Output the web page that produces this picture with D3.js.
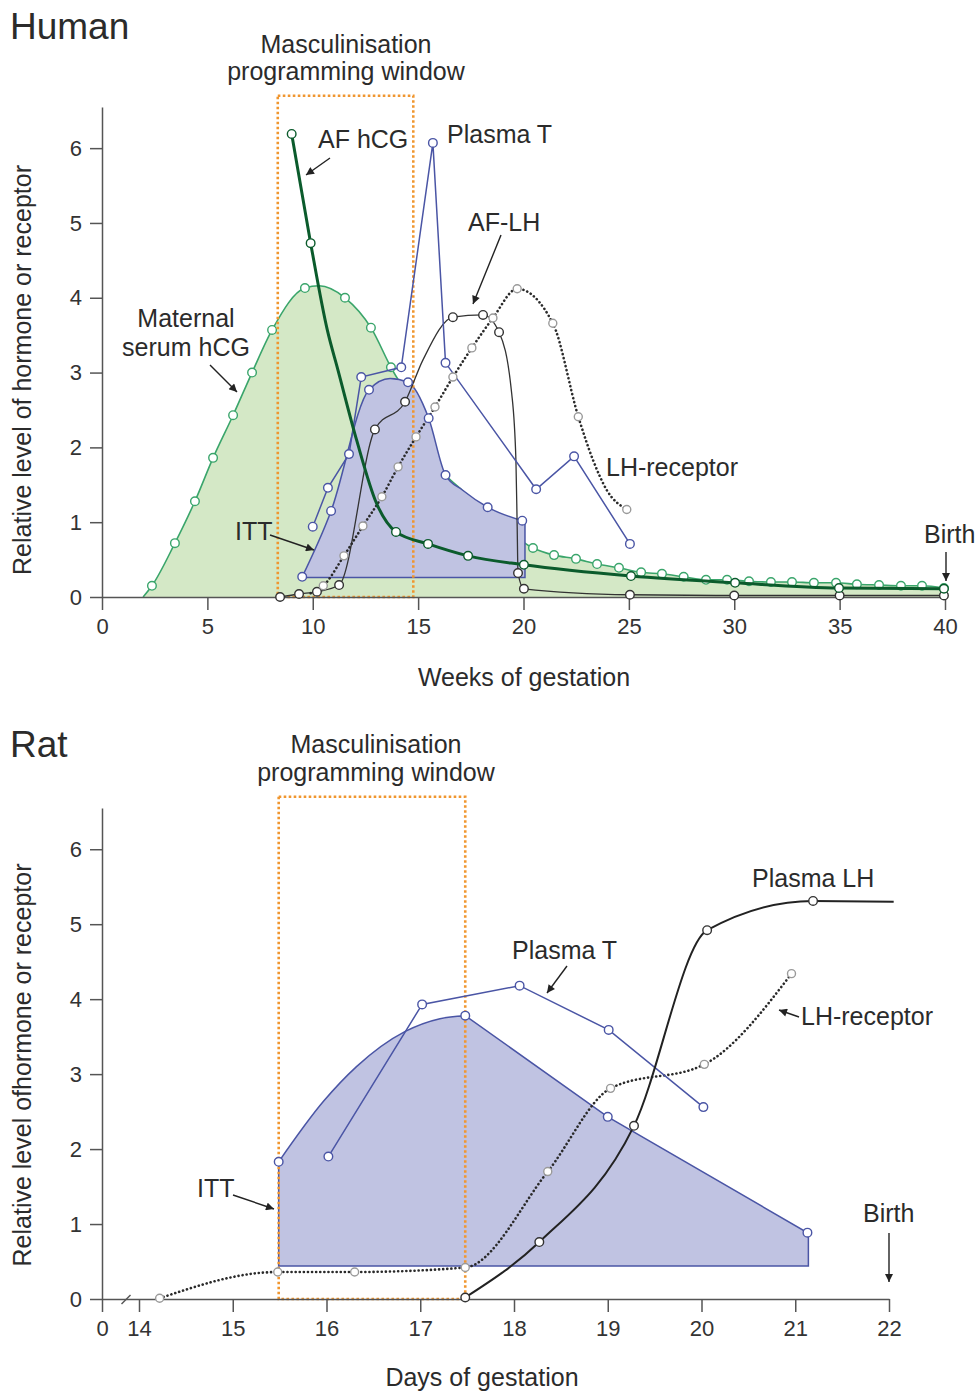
<!DOCTYPE html>
<html>
<head>
<meta charset="utf-8">
<script src="https://cdn.jsdelivr.net/npm/d3@7"></script>
<style>
body { margin: 0; background: #fff; }
svg { display: block; font-family: "Liberation Sans", Arial, sans-serif; }
.axis path, .axis line { stroke: #555; stroke-width: 1.5; }
.axis text { font-size: 22px; fill: #333; font-family: "Liberation Sans", Arial, sans-serif; }
</style>
</head>
<body>
<svg id="main-svg" width="976" height="1391"></svg>
<script>
// ---- Human panel, weeks of gestation ----
var weekTicks = [0, 5, 10, 15, 20, 25, 30, 35, 40]
var levelTicks = [0, 1, 2, 3, 4, 5, 6]
var humanWindow = [8.34, 14.77]
var windowTop = 6.7

var maternalHcg = [
    [1.95, 0, 0], [2.37, 0.15, 1], [3.46, 0.72, 1], [4.41, 1.28, 1], [5.27, 1.86, 1], [6.22, 2.43, 1],
    [7.12, 3.0, 1], [8.07, 3.57, 1], [9.63, 4.13, 1], [10.3, 4.16, 0], [11.53, 4.0, 1], [12.76, 3.6, 1],
    [13.71, 3.07, 1], [15.0, 2.45, 0], [16.0, 1.75, 0], [17.0, 1.45, 0], [18.0, 1.2, 0], [19.0, 0.95, 0],
    [20.45, 0.655, 1], [21.45, 0.56, 1], [22.49, 0.51, 1], [23.49, 0.44, 1], [24.53, 0.39, 1], [25.58, 0.33, 1],
    [26.57, 0.31, 1], [27.6, 0.27, 1], [28.66, 0.23, 1], [29.66, 0.23, 1], [30.7, 0.21, 1], [31.74, 0.2, 1],
    [32.74, 0.2, 1], [33.78, 0.19, 1], [34.83, 0.19, 1], [35.82, 0.17, 1], [36.87, 0.16, 1], [37.91, 0.15, 1],
    [38.91, 0.15, 1], [39.95, 0.12, 1]
]
var afHcg = [
    [9.0, 6.19, 1], [9.9, 4.73, 1], [10.69, 3.57, 0], [11.2, 3.03, 0], [12.08, 2.1, 0], [13.03, 1.25, 0],
    [13.95, 0.87, 1], [15.47, 0.71, 1], [17.37, 0.55, 1], [20.02, 0.43, 1], [25.1, 0.28, 1],
    [30.04, 0.19, 1], [34.97, 0.12, 1], [39.95, 0.11, 1]
]
var plasmaTHuman = [
    [10.0, 0.94], [10.72, 1.46], [11.72, 1.91], [12.3, 2.94], [14.2, 3.07], [15.7, 6.07],
    [16.3, 3.13], [20.6, 1.44], [22.4, 1.88], [25.05, 0.71]
]
var afLh = [
    [8.45, 0, 1], [9.35, 0.04, 1], [10.2, 0.07, 1], [11.25, 0.16, 1], [12.95, 2.24, 1], [14.38, 2.61, 1],
    [15.23, 3.17, 0], [16.65, 3.74, 1], [18.08, 3.77, 1], [18.84, 3.54, 1], [19.44, 2.72, 0],
    [19.64, 1.83, 0], [19.7, 0.94, 0], [19.74, 0.32, 1], [20.02, 0.11, 1], [25.05, 0.03, 1],
    [30.0, 0.02, 1], [35.0, 0.02, 1], [39.95, 0.02, 1]
]
var lhReceptorHuman = [
    [9.9, 0.05, 0], [10.5, 0.15, 1], [11.48, 0.55, 1], [12.38, 0.95, 1], [13.28, 1.34, 1], [14.05, 1.74, 1],
    [14.9, 2.14, 1], [15.8, 2.54, 1], [16.65, 2.94, 1], [17.55, 3.33, 1], [18.55, 3.73, 1], [19.7, 4.12, 1],
    [21.39, 3.66, 1], [22.6, 2.41, 1], [23.3, 1.83, 0], [23.95, 1.43, 0], [24.9, 1.17, 1]
]
var ittHuman = [
    [9.5, 0.27, 1], [10.87, 1.15, 1], [12.67, 2.77, 1], [13.67, 2.92, 0], [14.52, 2.87, 1], [15.5, 2.39, 1],
    [16.3, 1.63, 1], [17.1, 1.43, 0], [18.3, 1.2, 1], [19.94, 1.02, 1]
]
var ittHumanBase = 0.26
var ittHumanEnd = 20.07

// ---- Rat panel, days of gestation ----
var dayTicks = [0, 14, 15, 16, 17, 18, 19, 20, 21, 22]
var ratWindow = [15.49, 17.48]
var plasmaTRat = [[16.02, 1.9], [17.02, 3.93], [18.06, 4.18], [19.01, 3.59], [20.02, 2.56]]
var plasmaLhRat = [
    [17.48, 0.02, 1], [18.27, 0.76, 1], [19.28, 2.31, 1], [20.06, 4.92, 1], [21.19, 5.31, 1], [22.05, 5.3, 0]
]
var lhReceptorRat = [
    [14.22, 0.01, 1], [15.48, 0.36, 1], [16.3, 0.36, 1], [17.48, 0.42, 1], [18.36, 1.7, 1],
    [19.03, 2.81, 1], [20.03, 3.13, 1], [20.96, 4.34, 1]
]
var ittRatRise = [[15.49, 1.83, 1], [15.97, 2.64, 0], [16.32, 3.1, 0], [16.84, 3.57, 0], [17.21, 3.74, 0], [17.48, 3.78, 1]]
var ittRatFall = [[19.0, 2.43, 1], [21.13, 0.885, 1]]
var ittRatBase = 0.44
var ittRatEnd = 21.14

var GREEN = '#3aa56b', GREEN_FILL = '#d4e8c6', DARK_GREEN = '#0b5b2c'
var BLUE = '#4a55a5', BLUE_FILL = '#c0c3e2', ORANGE = '#f0962f'

var svg = d3.select('#main-svg')
svg.append('defs').append('marker')
    .attr('id', 'arrow').attr('viewBox', '0 0 10 10').attr('refX', 10).attr('refY', 5)
    .attr('markerWidth', 10).attr('markerHeight', 8).attr('markerUnits', 'userSpaceOnUse')
    .attr('orient', 'auto')
    .append('path').attr('d', 'M0,0 L10,5 L0,10 z').attr('fill', '#222')

function drawAxes(g, x, y, xt, yt) {
    g.append('g').attr('class', 'axis').attr('transform', 'translate(0,' + y(0) + ')')
        .call(d3.axisBottom(x).tickValues(xt).tickSize(13).tickSizeOuter(0).tickPadding(8).tickFormat(d3.format('d')))
    g.append('g').attr('class', 'axis').attr('transform', 'translate(' + x(0) + ',0)')
        .call(d3.axisLeft(y).tickValues(yt).tickSize(12).tickSizeOuter(0).tickPadding(8).tickFormat(d3.format('d')))
}

function lineGen(x, y, curve) {
    return d3.line().x(function(d) { return x(d[0]) }).y(function(d) { return y(d[1]) }).curve(curve)
}

function drawLine(g, pts, x, y, curve, color, width, dotted) {
    var p = g.append('path').attr('d', lineGen(x, y, curve)(pts))
        .attr('fill', 'none').attr('stroke', color).attr('stroke-width', width)
    if (dotted) p.attr('stroke-dasharray', '0.1,4').attr('stroke-linecap', 'round')
    return p
}

function drawCircles(g, pts, x, y, color, r) {
    g.selectAll(null).data(pts.filter(function(d) { return d[2] !== 0 })).enter().append('circle')
        .attr('cx', function(d) { return x(d[0]) })
        .attr('cy', function(d) { return y(d[1]) })
        .attr('r', r || 4.3)
        .attr('fill', '#fff').attr('stroke', color).attr('stroke-width', 1.4)
}

function drawWindow(g, x, y, win) {
    g.append('rect')
        .attr('x', x(win[0])).attr('y', y(windowTop))
        .attr('width', x(win[1]) - x(win[0])).attr('height', y(0) - y(windowTop))
        .attr('fill', 'none').attr('stroke', ORANGE).attr('stroke-width', 2.6)
        .attr('stroke-dasharray', '2.6,2.4')
}

function text(g, str, px, py, size, anchor) {
    return g.append('text').attr('x', px).attr('y', py).attr('font-size', size || 25)
        .attr('fill', '#2b2b2b').attr('text-anchor', anchor || 'start').text(str)
}

function arrow(g, a) {
    g.append('line').attr('x1', a[0]).attr('y1', a[1]).attr('x2', a[2]).attr('y2', a[3])
        .attr('stroke', '#222').attr('stroke-width', 1.4).attr('marker-end', 'url(#arrow)')
}

function yTitle(g, str, cx, cy) {
    g.append('text').attr('transform', 'translate(' + cx + ',' + cy + ') rotate(-90)')
        .attr('text-anchor', 'middle').attr('dy', '0.35em').attr('font-size', 25)
        .attr('fill', '#2b2b2b').text(str)
}

// ================= Human =================
var gh = svg.append('g')
var xH = d3.scaleLinear().domain([0, 40]).range([102, 945])
var yH = d3.scaleLinear().domain([0, 6.55]).range([597, 107])

gh.append('path')
    .attr('d', d3.area().x(function(d) { return xH(d[0]) }).y0(yH(0)).y1(function(d) { return yH(d[1]) })
        .curve(d3.curveMonotoneX)(maternalHcg))
    .attr('fill', GREEN_FILL)
drawLine(gh, maternalHcg, xH, yH, d3.curveMonotoneX, GREEN, 1.6)
drawCircles(gh, maternalHcg, xH, yH, GREEN)

var ittTop = lineGen(xH, yH, d3.curveMonotoneX)(ittHuman)
var ittLast = ittHuman[ittHuman.length - 1]
gh.append('path')
    .attr('d', ittTop + 'L' + xH(ittHumanEnd) + ',' + yH(ittLast[1]) + 'L' + xH(ittHumanEnd) + ',' + yH(ittHumanBase) +
        'L' + xH(ittHuman[0][0]) + ',' + yH(ittHumanBase) + 'Z')
    .attr('fill', BLUE_FILL).attr('stroke', BLUE).attr('stroke-width', 1.5)

drawWindow(gh, xH, yH, humanWindow)
drawAxes(gh, xH, yH, weekTicks, levelTicks)

drawLine(gh, afLh, xH, yH, d3.curveMonotoneX, '#333', 1.3)
drawLine(gh, lhReceptorHuman, xH, yH, d3.curveMonotoneX, '#2a2a2a', 2.6, true)
drawLine(gh, plasmaTHuman, xH, yH, d3.curveLinear, BLUE, 1.5)
drawLine(gh, afHcg, xH, yH, d3.curveMonotoneX, DARK_GREEN, 3)

drawCircles(gh, ittHuman, xH, yH, BLUE)
drawCircles(gh, plasmaTHuman, xH, yH, BLUE)
drawCircles(gh, afLh, xH, yH, '#333')
drawCircles(gh, lhReceptorHuman, xH, yH, '#9a9a9a', 4)
drawCircles(gh, afHcg, xH, yH, DARK_GREEN)

text(gh, 'Human', 10, 39, 37)
text(gh, 'Masculinisation', 346, 53, 25, 'middle')
text(gh, 'programming window', 346, 80, 25, 'middle')
text(gh, 'AF hCG', 318, 148)
text(gh, 'Plasma T', 447, 143)
text(gh, 'AF-LH', 468, 231)
text(gh, 'Maternal', 186, 327, 25, 'middle')
text(gh, 'serum hCG', 186, 356, 25, 'middle')
text(gh, 'LH-receptor', 606, 476)
text(gh, 'ITT', 235, 540)
text(gh, 'Birth', 924, 543)
text(gh, 'Weeks of gestation', 524, 686, 25, 'middle')
yTitle(gh, 'Relative level of hormone or receptor', 22, 370)

arrow(gh, [330, 158, 306, 175])
arrow(gh, [501, 235, 473, 304])
arrow(gh, [210, 365, 237, 392])
arrow(gh, [270, 535, 314, 550])
arrow(gh, [946, 552, 946, 581])

// ================= Rat =================
var gr = svg.append('g')
var xR = d3.scaleLinear().domain([0, 14, 22]).range([102, 139, 889])
var yR = d3.scaleLinear().domain([0, 6.55]).range([1299, 808])

var ratTop = lineGen(xR, yR, d3.curveMonotoneX)(ittRatRise) +
    lineGen(xR, yR, d3.curveLinear)(ittRatFall).replace(/^M/, 'L')
var ratLast = ittRatFall[ittRatFall.length - 1]
gr.append('path')
    .attr('d', ratTop + 'L' + xR(ittRatEnd) + ',' + yR(ratLast[1]) + 'L' + xR(ittRatEnd) + ',' + yR(ittRatBase) +
        'L' + xR(ittRatRise[0][0]) + ',' + yR(ittRatBase) + 'Z')
    .attr('fill', BLUE_FILL).attr('stroke', BLUE).attr('stroke-width', 1.5)

drawWindow(gr, xR, yR, ratWindow)
drawAxes(gr, xR, yR, dayTicks, levelTicks)

// axis break between 0 and 14
var bx = (xR(0) + xR(14)) / 2 + 6
gr.append('line').attr('x1', bx - 5).attr('y1', yR(0) + 5).attr('x2', bx + 4).attr('y2', yR(0) - 4)
    .attr('stroke', '#555').attr('stroke-width', 1.5)

drawLine(gr, lhReceptorRat, xR, yR, d3.curveMonotoneX, '#2a2a2a', 2.6, true)
drawLine(gr, plasmaTRat, xR, yR, d3.curveLinear, BLUE, 1.5)
drawLine(gr, plasmaLhRat, xR, yR, d3.curveMonotoneX, '#222', 2)

drawCircles(gr, ittRatRise, xR, yR, BLUE)
drawCircles(gr, ittRatFall, xR, yR, BLUE)
drawCircles(gr, plasmaTRat, xR, yR, BLUE)
drawCircles(gr, lhReceptorRat, xR, yR, '#9a9a9a', 4)
drawCircles(gr, plasmaLhRat, xR, yR, '#333')

text(gr, 'Rat', 10, 757, 37)
text(gr, 'Masculinisation', 376, 753, 25, 'middle')
text(gr, 'programming window', 376, 781, 25, 'middle')
text(gr, 'Plasma LH', 752, 887)
text(gr, 'Plasma T', 512, 959)
text(gr, 'LH-receptor', 801, 1025)
text(gr, 'ITT', 197, 1197)
text(gr, 'Birth', 863, 1222)
text(gr, 'Days of gestation', 482, 1386, 25, 'middle')
yTitle(gr, 'Relative level ofhormone or receptor', 22, 1065)

arrow(gr, [567, 966, 547, 993])
arrow(gr, [799, 1017, 779, 1010])
arrow(gr, [233, 1195, 274, 1209])
arrow(gr, [889, 1233, 889, 1282])
</script>
</body>
</html>
